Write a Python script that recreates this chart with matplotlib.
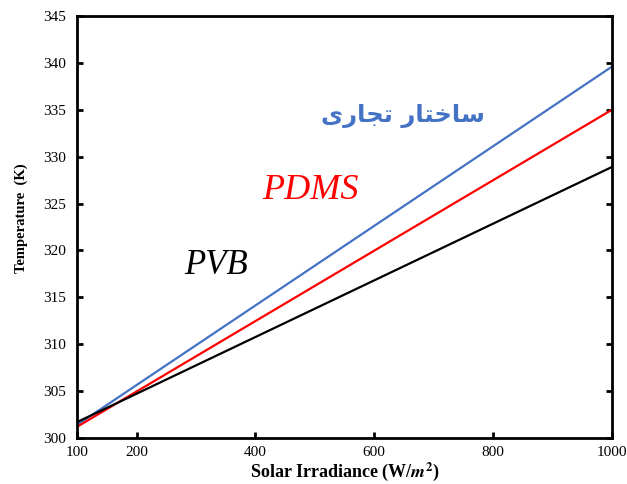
import matplotlib
matplotlib.use('Agg')
import matplotlib.pyplot as plt

# irradiance (W/m^2) and panel temperature (K) at the ends of each run
irradiance = [100, 1000]
temp_commercial = [301.4, 339.6]
temp_pdms = [301.2, 335.0]
temp_pvb = [301.7, 328.9]

x_ticks = [100, 200, 400, 600, 800, 1000]
y_ticks = [300, 305, 310, 315, 320, 325, 330, 335, 340, 345]

# "ساختار تجاری" written in shaped presentation forms, visual order
commercial_label = '\ufeef\ufead\ufe8e\ufea0\ufe97 \ufead\ufe8e\ufe98\ufea7\ufe8e\ufeb3'

plt.rcParams['font.family'] = ['Liberation Serif', 'DejaVu Serif']
plt.rcParams['mathtext.fontset'] = 'stix'

fig = plt.figure(figsize=(6.27, 4.84), dpi=100)
ax = fig.add_axes([0.123, 0.095, 0.853, 0.872])

ax.plot(irradiance, temp_commercial, color='#4472C4', linewidth=1.6)
ax.plot(irradiance, temp_pdms, color='#FF0000', linewidth=1.6)
ax.plot(irradiance, temp_pvb, color='black', linewidth=1.6)

ax.set_xlim(100, 1000)
ax.set_ylim(300, 345)
ax.set_xticks(x_ticks)
ax.set_yticks(y_ticks)
ax.tick_params(direction='in', length=4, width=2, labelsize=11, right=True)
ax.tick_params(axis='y', pad=8)
ax.tick_params(axis='x', pad=6)

for s in ax.spines.values():
    s.set_linewidth(2)

ax.set_xlabel(r'Solar Irradiance (W/$\boldsymbol{m}^{\mathbf{2}}$)', fontsize=13, fontweight='bold')
ax.set_ylabel('Temperature  (K)', fontsize=10.5, fontweight='bold')
ax.xaxis.set_label_coords(0.5, -0.052)
ax.yaxis.set_label_coords(-0.091, 0.521)

ax.text(334, 318.4, 'PVB', fontsize=25, style='italic', color='black', ha='center', va='center')
ax.text(492, 326.4, 'PDMS', fontsize=26, style='italic', color='#FF0000', ha='center', va='center')
ax.text(648, 334.3, commercial_label, fontsize=17.5, fontweight='bold',
        family=['DejaVu Sans'], color='#4472C4', ha='center', va='center')

fig.savefig('out.png', dpi=100)
